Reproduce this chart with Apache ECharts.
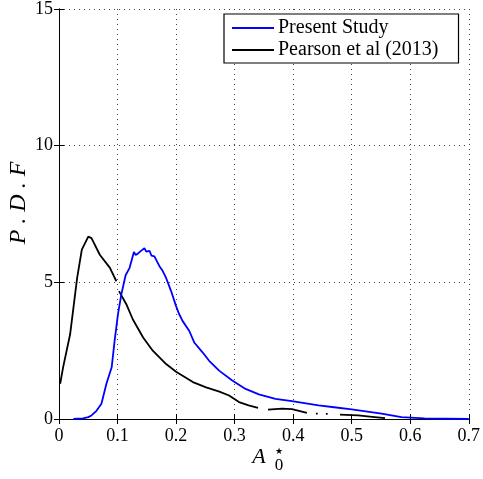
<!DOCTYPE html>
<html><head><meta charset="utf-8">
<script src="https://cdn.jsdelivr.net/npm/echarts@6/dist/echarts.min.js"></script>
<style>html,body{margin:0;padding:0;background:#fff}#c{width:483px;height:479px}</style>
</head><body><div id="c"></div>
<script>
const seriesNames = ['Present Study', 'Pearson et al (2013)'];
const xTicks = [0, 0.1, 0.2, 0.3, 0.4, 0.5, 0.6, 0.7];
const yTicks = [0, 5, 10, 15];

const presentX = [0.0245,0.041,0.05,0.0555,0.064,0.0725,0.081,0.09,0.095,0.1007,0.1065,0.1138,0.117,0.1206,0.128,0.131,0.1347,0.14,0.146,0.149,0.1546,0.158,0.163,0.1716,0.177,0.183,0.1915,0.2,0.205,0.211,0.2226,0.231,0.2452,0.2565,0.2735,0.296,0.3187,0.3415,0.3698,0.398,0.4434,0.47,0.5,0.551,0.585,0.6245,0.66,0.7];
const presentY = [0.0,0.02,0.07,0.13,0.3,0.56,1.29,1.89,2.86,3.83,4.56,5.26,5.3,5.53,6.11,6.0,6.05,6.15,6.25,6.12,6.15,5.98,5.95,5.59,5.42,5.16,4.68,4.13,3.85,3.59,3.22,2.8,2.44,2.13,1.77,1.41,1.1,0.9,0.74,0.65,0.5,0.43,0.35,0.2,0.07,0.02,0.01,0.0];

const pearsonX = [0.002,0.007,0.019,0.031,0.039,0.05,0.0555,0.0697,0.087,0.098,null,0.1025,0.115,0.126,0.1437,0.1602,0.183,0.2,0.2287,0.2513,0.274,0.2905,0.3075,0.324,0.34,null,0.357,0.381,0.398,0.4235,null,0.439,0.442,null,0.456,0.459,null,0.48,0.511,0.535,0.557];
const pearsonY = [1.29,1.89,3.1,5.16,6.2,6.67,6.62,6.01,5.53,5.04,null,4.68,4.2,3.65,2.98,2.5,2.01,1.73,1.35,1.16,1.0,0.86,0.62,0.5,0.41,null,0.34,0.38,0.36,0.22,null,0.2,0.2,null,0.19,0.19,null,0.16,0.13,0.08,0.03];

const toPairs = (xs, ys) => xs.map((x, i) => (x === null ? [null, null] : [x, ys[i]]));

const chart = echarts.init(document.getElementById('c'), null, {renderer: 'canvas'});
const FONT = 'Liberation Serif';
const grid = {left: 59, right: 12, top: 6, bottom: 60};
const tickStyle = {show: true, inside: true, length: 5, lineStyle: {color: '#000', width: 1}};
chart.setOption({
  animation: false,
  backgroundColor: '#fff',
  grid: grid,
  legend: {
    left: 224, top: 14,
    orient: 'vertical',
    backgroundColor: '#fff',
    borderColor: '#000', borderWidth: 1.2, borderRadius: 0,
    padding: [4, 20, 3, 8],
    itemWidth: 42, itemHeight: 10, itemGap: 2,
    textStyle: {fontFamily: FONT, fontSize: 20, color: '#000', padding: [0, 0, 0, -1]},
    data: seriesNames.map(n => ({name: n, icon: 'path://M0,4L42,4L42,6L0,6Z'}))
  },
  xAxis: [{
    type: 'value', min: xTicks[0], max: xTicks[xTicks.length - 1], interval: 0.1,
    axisLine: {show: true, lineStyle: {color: '#000', width: 1}},
    axisTick: tickStyle,
    axisLabel: {fontFamily: FONT, fontSize: 18, color: '#000', margin: 8,
      formatter: v => (Math.abs(v) < 1e-9 ? '0' : (+v.toFixed(1)).toString())},
    splitLine: {show: true, lineStyle: {color: '#444', width: 1, type: [1, 4]}}
  }, {
    type: 'value', position: 'top', min: 0, max: 0.7, interval: 0.1,
    axisLine: {show: true, lineStyle: {color: '#000', width: 1}},
    axisTick: tickStyle, axisLabel: {show: false}, splitLine: {show: false}
  }],
  yAxis: [{
    type: 'value', min: yTicks[0], max: yTicks[yTicks.length - 1], interval: 5,
    axisLine: {show: true, lineStyle: {color: '#000', width: 1}},
    axisTick: tickStyle,
    axisLabel: {fontFamily: FONT, fontSize: 18, color: '#000', margin: 6},
    splitLine: {show: true, lineStyle: {color: '#444', width: 1, type: [1, 4]}}
  }, {
    type: 'value', position: 'right', min: 0, max: 15, interval: 5,
    axisLine: {show: true, lineStyle: {color: '#000', width: 1}},
    axisTick: tickStyle, axisLabel: {show: false}, splitLine: {show: false}
  }],
  series: [{
    name: seriesNames[0], type: 'line', showSymbol: false, symbol: 'none',
    lineStyle: {color: '#0000ff', width: 1.8}, itemStyle: {color: '#0000ff'},
    data: toPairs(presentX, presentY), z: 3
  }, {
    name: seriesNames[1], type: 'line', showSymbol: false, symbol: 'none', connectNulls: false,
    lineStyle: {color: '#000', width: 1.8}, itemStyle: {color: '#000'},
    data: toPairs(pearsonX, pearsonY), z: 2
  }],
  graphic: [
    {type: 'text', x: 19, y: 203, rotation: Math.PI / 2,
      style: {text: 'P . D . F', font: 'italic 24px "Liberation Serif"', fill: '#000', align: 'center', verticalAlign: 'middle'}},
    {type: 'text', x: 259, y: 457,
      style: {text: 'A', font: 'italic 22px "Liberation Serif"', fill: '#000', align: 'center', verticalAlign: 'middle'}},
    {type: 'text', x: 279, y: 452,
      style: {text: '\u2605', font: '9px "DejaVu Sans"', fill: '#000', align: 'center', verticalAlign: 'middle'}},
    {type: 'text', x: 279, y: 466,
      style: {text: '0', font: '17px "Liberation Serif"', fill: '#000', align: 'center', verticalAlign: 'middle'}}
  ]
});
</script></body></html>
